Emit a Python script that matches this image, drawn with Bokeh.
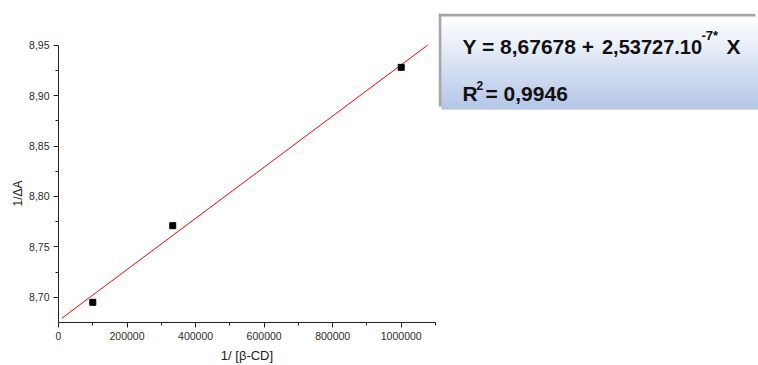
from bokeh.plotting import figure
from bokeh.layouts import row
from bokeh.models import Range1d, FixedTicker, CustomJSTickFormatter, Title
from bokeh.core.properties import value
from bokeh.embed import file_html
from bokeh.resources import INLINE

# Measured points: 1/[beta-CD] versus 1/dA
inv_conc = [100000, 333333, 1000000]
inv_dA = [8.695, 8.771, 8.928]

# Linear regression reported for the data
intercept = 8.67678
slope = 2.53727e-7
r_squared = 0.9946
fit_x = [10000, 1077000]
fit_y = [intercept + slope * x for x in fit_x]

x_ticks = [0, 200000, 400000, 600000, 800000, 1000000]
x_minor = [100000, 300000, 500000, 700000, 900000, 1100000]
y_ticks = [8.70, 8.75, 8.80, 8.85, 8.90, 8.95]
y_minor = [8.725, 8.775, 8.825, 8.875, 8.925]
y_axis_bounds = (8.675, 8.95)

FONT = "Liberation Sans"
AXIS_COLOR = "#222222"

# Frame reaches up to y=13 px so that the equation panel beside it shares it;
# the y axis itself is bounded to end at 8.95.
p = figure(width=438, height=365,
           x_range=Range1d(0, 1100000), y_range=Range1d(8.675, 8.9814),
           min_border_left=58, min_border_right=3,
           min_border_top=13, min_border_bottom=40,
           output_backend="svg", toolbar_location=None)
p.grid.visible = False
p.outline_line_color = None
p.background_fill_color = "white"
p.border_fill_color = "white"

p.line(fit_x, fit_y, line_color="#ff0000", line_width=1)
p.scatter(inv_conc, inv_dA, marker="square", size=6,
          fill_color="black", line_color="black")

p.xaxis.ticker = FixedTicker(ticks=x_ticks, minor_ticks=x_minor)
p.yaxis.ticker = FixedTicker(ticks=y_ticks, minor_ticks=y_minor)
p.yaxis.bounds = y_axis_bounds
p.xaxis.formatter = CustomJSTickFormatter(code="return tick.toFixed(0);")
p.yaxis.formatter = CustomJSTickFormatter(code="return tick.toFixed(2).replace('.', ',');")

for ax in (p.xaxis[0], p.yaxis[0]):
    ax.axis_line_color = AXIS_COLOR
    ax.major_tick_line_color = AXIS_COLOR
    ax.minor_tick_line_color = AXIS_COLOR
    ax.major_tick_out = 5
    ax.major_tick_in = 0
    ax.minor_tick_out = 3
    ax.minor_tick_in = 0
    ax.major_label_text_font = FONT
    ax.major_label_text_font_size = "10.5px"
    ax.major_label_text_color = "#2a2a2a"
    ax.major_label_standoff = 4

p.xaxis.axis_label = "1/ [β-CD]"
p.xaxis.axis_label_text_font = FONT
p.xaxis.axis_label_text_font_style = "normal"
p.xaxis.axis_label_text_color = "#222222"
p.xaxis.axis_label_text_font_size = "13px"
p.xaxis.axis_label_standoff = 5

# y-axis title as a side title, so it can sit along the bounded axis
y_title = Title(text="1/ΔA", align="left", offset=116, standoff=3,
                text_font=FONT, text_font_size="12px", text_font_style="normal",
                text_color="#222222")
p.add_layout(y_title, "left")

# Equation panel: grey shadow behind a white-to-blue gradient box.
# Its y range is in canvas pixels (top-down).
q = figure(width=320, height=365, x_range=Range1d(0, 320), y_range=Range1d(325, 13),
           min_border_left=0, min_border_right=0,
           min_border_top=13, min_border_bottom=40,
           output_backend="svg", toolbar_location=None)
q.axis.visible = False
q.grid.visible = False
q.outline_line_color = None
q.background_fill_color = "white"
q.border_fill_color = "white"

# shadow edges (top strip and left strip)
q.quad(left=[0, 0], right=[317, 3.5], top=[13, 13], bottom=[16.5, 107],
       fill_color="#a6a6a6", line_color=None)

top_rgb = (255, 255, 255)
bottom_rgb = (180, 198, 231)
box_top, box_bottom = 16, 110
strip_l, strip_r, strip_t, strip_b, strip_c = [], [], [], [], []
for row_y in range(box_top, box_bottom):
    f = (row_y - box_top) / (box_bottom - box_top - 1)
    c = tuple(round(a + (b - a) * f) for a, b in zip(top_rgb, bottom_rgb))
    strip_l.append(3)
    strip_r.append(320)
    strip_t.append(row_y)
    strip_b.append(min(row_y + 1.6, box_bottom))
    strip_c.append("#%02x%02x%02x" % c)
q.quad(left=strip_l, right=strip_r, top=strip_t, bottom=strip_b,
       fill_color=strip_c, line_color=None)

intercept_txt = ("%.5f" % intercept).replace(".", ",")
slope_mant = ("%.5f" % (slope * 1e7)).replace(".", ",")
r2_txt = ("%.4f" % r_squared).replace(".", ",")


def txt(x, y, s, size):
    q.text(x=[x], y=[y], text=[s], text_font=value(FONT), text_font_style="bold",
           text_font_size=size, text_color="#111111", text_baseline="alphabetic",
           text_align="left")


txt(24, 46.5, "Y = %s +" % intercept_txt, "21px")
txt(163.5, 46.5, "%s.10" % slope_mant, "20px")
txt(263, 35.5, "-7*", "13px")
txt(288, 46.5, "X", "21px")
txt(24, 94, "R", "21px")
txt(38, 86, "2", "12px")
txt(47, 94, "= %s" % r2_txt, "21px")

layout = row(p, q, spacing=0)
open("out.html", "w").write(file_html(layout, INLINE))
